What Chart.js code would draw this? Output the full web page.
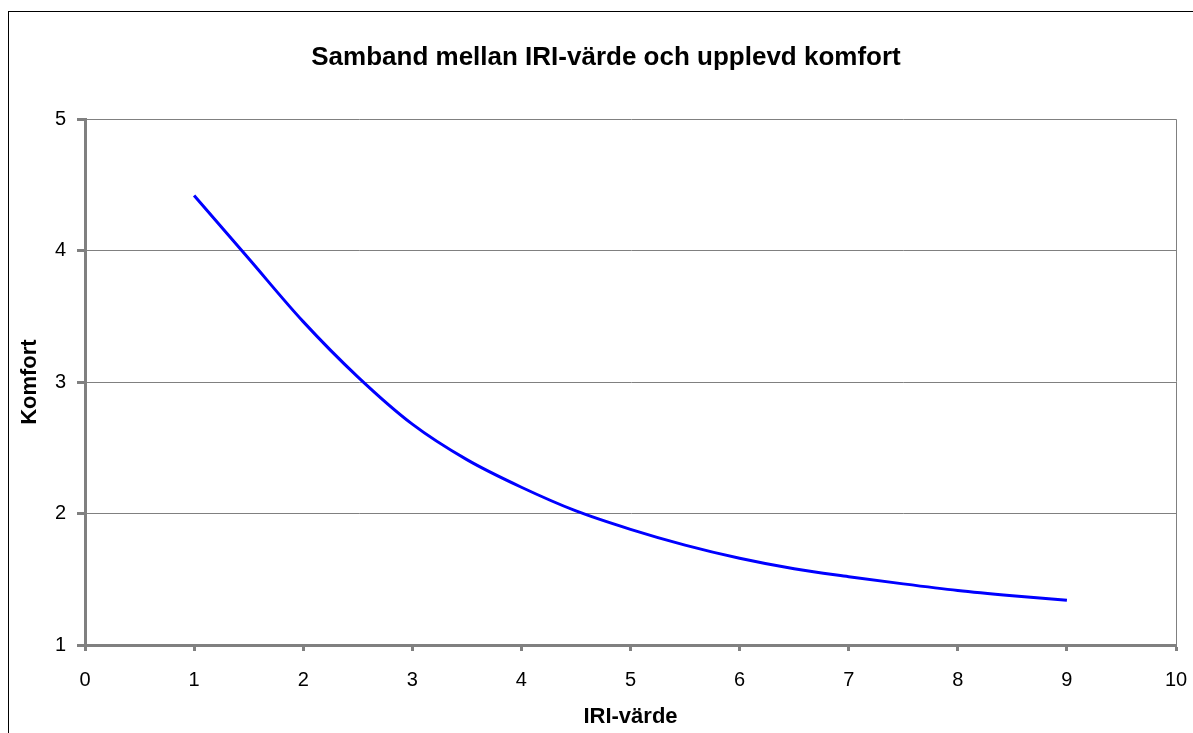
<!DOCTYPE html>
<html>
<head>
<meta charset="utf-8">
<title>Samband mellan IRI-värde och upplevd komfort</title>
<script src="https://cdn.jsdelivr.net/npm/chart.js@4.4.0/dist/chart.umd.min.js"></script>
<style>
	body { margin: 0; background: #fff; overflow: hidden; }
	#wrap { position: relative; width: 1193px; height: 733px; }
	#frame {
		position: absolute; left: 8px; top: 11px; right: -10px; bottom: -10px;
		border-left: 1px solid #000; border-top: 1px solid #000;
		pointer-events: none;
	}
</style>
</head>
<body>
<div id="wrap">
	<canvas id="chart" width="1193" height="733"></canvas>
	<div id="frame"></div>
</div>
<script>
// values
var iriValues = [1, 1.5, 2, 2.5, 3, 3.5, 4, 4.5, 5, 5.5, 6, 6.5, 7, 7.5, 8, 8.5, 9];
var komfortValues = [4.42, 3.94, 3.46, 3.04, 2.68, 2.41, 2.20, 2.02, 1.88, 1.76, 1.66, 1.58, 1.52, 1.465, 1.415, 1.375, 1.34];

var chartTitle = 'Samband mellan IRI-värde och upplevd komfort';
var xTitle = 'IRI-värde';
var yTitle = 'Komfort';

var axisGray = '#808080';

(function() {
	Chart.defaults.font.family = '"Liberation Sans", Arial, sans-serif';
	Chart.defaults.color = '#000';

	var points = iriValues.map(function(x, i) {
		return { x: x, y: komfortValues[i] };
	});

	new Chart(document.getElementById('chart'), {
		type: 'line',
		data: {
			datasets: [{
				data: points,
				borderColor: '#0000ff',
				borderWidth: 3,
				pointRadius: 0,
				fill: false,
				cubicInterpolationMode: 'monotone'
			}]
		},
		options: {
			responsive: false,
			animation: false,
			// left padding pushes the title centre right, like the excel frame
			layout: { padding: { left: 19, right: 0, top: 0, bottom: 0 } },
			plugins: {
				legend: { display: false },
				tooltip: { enabled: false },
				title: {
					display: true,
					text: chartTitle,
					font: { size: 26, weight: 'bold' },
					padding: { top: 42, bottom: 46 }
				}
			},
			scales: {
				x: {
					type: 'linear',
					min: 0,
					max: 10,
					afterFit: function(scale) {
						scale.height = 88;
						scale.paddingLeft = 0;
						scale.paddingRight = 17;
					},
					ticks: { stepSize: 1, font: { size: 20 }, padding: 17 },
					grid: {
						color: function(ctx) {
							return ctx.tick && ctx.tick.value === 10 ? axisGray : 'rgba(0,0,0,0)';
						},
						lineWidth: 1,
						tickColor: axisGray,
						tickWidth: 3,
						tickLength: 6
					},
					border: { display: true, color: axisGray, width: 3 },
					title: {
						display: true,
						text: xTitle,
						font: { size: 22, weight: 'bold' },
						padding: { top: 0, bottom: 3 }
					}
				},
				y: {
					min: 1,
					max: 5,
					afterFit: function(scale) { scale.width = 66; },
					ticks: { stepSize: 1, font: { size: 20 }, padding: 11 },
					grid: {
						color: axisGray,
						lineWidth: 1,
						tickColor: axisGray,
						tickWidth: 3,
						tickLength: 8
					},
					border: { display: true, color: axisGray, width: 3 },
					title: {
						display: true,
						text: yTitle,
						font: { size: 22, weight: 'bold' },
						padding: { top: -2, bottom: 0 }
					}
				}
			}
		}
	});
}());
</script>
</body>
</html>
